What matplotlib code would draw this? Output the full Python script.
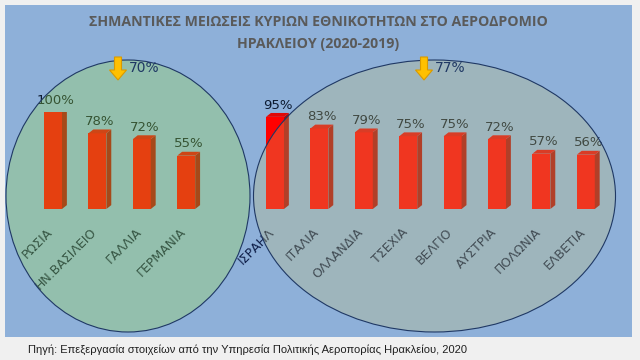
import numpy as np
import matplotlib
matplotlib.use('Agg')
import matplotlib.pyplot as plt
from matplotlib.patches import Polygon, Ellipse, Rectangle
from matplotlib.transforms import ScaledTranslation

# ---------------- data ----------------
categories = ['ΡΩΣΙΑ', 'ΗΝ.ΒΑΣΙΛΕΙΟ', 'ΓΑΛΛΙΑ', 'ΓΕΡΜΑΝΙΑ', 'ΙΣΡΑΗΛ', 'ΙΤΑΛΙΑ',
              'ΟΛΛΑΝΔΙΑ', 'ΤΣΕΧΙΑ', 'ΒΕΛΓΙΟ', 'ΑΥΣΤΡΙΑ', 'ΠΟΛΩΝΙΑ', 'ΕΛΒΕΤΙΑ']
decrease = [100, 78, 72, 55, 95, 83, 79, 75, 75, 72, 57, 56]
group = [0, 0, 0, 0, 1, 1, 1, 1, 1, 1, 1, 1]
group_totals = [70, 77]

title_lines = ['ΣΗΜΑΝΤΙΚΕΣ ΜΕΙΩΣΕΙΣ ΚΥΡΙΩΝ ΕΘΝΙΚΟΤΗΤΩΝ ΣΤΟ ΑΕΡΟΔΡΟΜΙΟ',
               'ΗΡΑΚΛΕΙΟΥ (2020-2019)']
source = 'Πηγή: Επεξεργασία στοιχείων από την Υπηρεσία Πολιτικής Αεροπορίας Ηρακλείου, 2020'

# ---------------- figure ----------------
W, H = 640, 360
fig = plt.figure(figsize=(W / 100, H / 100), dpi=100, facecolor='#f0f0f0')

bg = fig.add_axes([0, 0, 1, 1], zorder=0)
bg.set_xlim(0, W); bg.set_ylim(H, 0); bg.axis('off')
bg.add_patch(Rectangle((5, 5), 627, 332, facecolor='#8eb0d9', edgecolor='none'))

# bar axes (pixel placement)
slot = 44.4
x_first = 53.0
base_px = 209.0
full_px = 97.0
left = (x_first - 0.5 * slot) / W
width = 13 * slot / W
ax = fig.add_axes([left, (H - base_px) / H, width, full_px / H], zorder=1)
ax.patch.set_visible(False)
ax.set_xlim(-0.5, 12.5)
ax.set_ylim(0, 100)
for s in ax.spines.values():
    s.set_visible(False)
ax.set_yticks([])

pos = np.arange(len(categories)) + np.array(group)
vals = np.array(decrease, dtype=float)
bw = 0.405
dx = 0.11
dy = 4.0
front_c = '#ff0000'
top_c = '#e00808'
side_c = '#a80c0c'

bars = ax.bar(pos, vals, width=bw, color=front_c, zorder=2)
for b, v in zip(bars, vals):
    x0 = b.get_x(); x1 = x0 + b.get_width(); h = b.get_height()
    ax.add_patch(Polygon([(x1, 0), (x1 + dx, dy), (x1 + dx, h + dy), (x1, h)],
                         closed=True, facecolor=side_c, edgecolor='none', zorder=2))
    ax.add_patch(Polygon([(x0, h), (x1, h), (x1 + dx, h + dy), (x0 + dx, h + dy)],
                         closed=True, facecolor=top_c, edgecolor='none', zorder=2))
    ax.text(x0 + (bw + dx) / 2, h + dy + 1.5, f'{int(v)}%', ha='center', va='bottom',
            fontsize=9.5, color='#0c1a30', clip_on=False)

ax.set_xticks(pos)
ax.set_xticklabels(categories, rotation=45, ha='right', va='top',
                   rotation_mode='anchor', fontsize=9, color='#0e1e48')
ax.tick_params(axis='x', length=0, pad=12)
shift = ScaledTranslation(-7 / 100, 0, fig.dpi_scale_trans)
for lab in ax.get_xticklabels():
    lab.set_transform(lab.get_transform() + shift)

# overlay (translucent ellipses, arrows)
ov = fig.add_axes([0, 0, 1, 1], zorder=2)
ov.set_xlim(0, W); ov.set_ylim(H, 0); ov.axis('off'); ov.patch.set_visible(False)
ov.add_patch(Ellipse((128, 196), 244, 272, facecolor=(162/255, 233/255, 59/255, 0.28),
                     edgecolor='#1f3864', lw=0.8))
ov.add_patch(Ellipse((434.5, 196), 362, 272, facecolor=(202/255, 197/255, 116/255, 0.28),
                     edgecolor='#1f3864', lw=0.8))

for cx, tot in zip([118, 424], group_totals):
    top, neck, tip = 57, 70, 80
    sw, hw = 3.5, 8.5
    ov.add_patch(Polygon([(cx - sw, top), (cx + sw, top), (cx + sw, neck), (cx + hw, neck),
                          (cx, tip), (cx - hw, neck), (cx - sw, neck)], closed=True,
                         facecolor='#ffc000', edgecolor='#d99a00', lw=0.8, zorder=5))
    ov.text(cx + 11, 68, f'{tot}%', ha='left', va='center', fontsize=10,
            color='#1f3864', zorder=6)

# titles
fig.text(318 / W, 1 - 22 / H, title_lines[0], ha='center', va='center', fontsize=10.2,
         fontweight='bold', color='#5a5a5a', family=['Open Sans', 'DejaVu Sans'])
fig.text(318 / W, 1 - 44 / H, title_lines[1], ha='center', va='center', fontsize=10.2,
         fontweight='bold', color='#5a5a5a', family=['Open Sans', 'DejaVu Sans'])
fig.text(28 / W, 1 - 350 / H, source, ha='left', va='center', fontsize=8,
         color='#202020', family=['Liberation Sans', 'DejaVu Sans'])

fig.savefig('out.png', dpi=100, facecolor=fig.get_facecolor())
